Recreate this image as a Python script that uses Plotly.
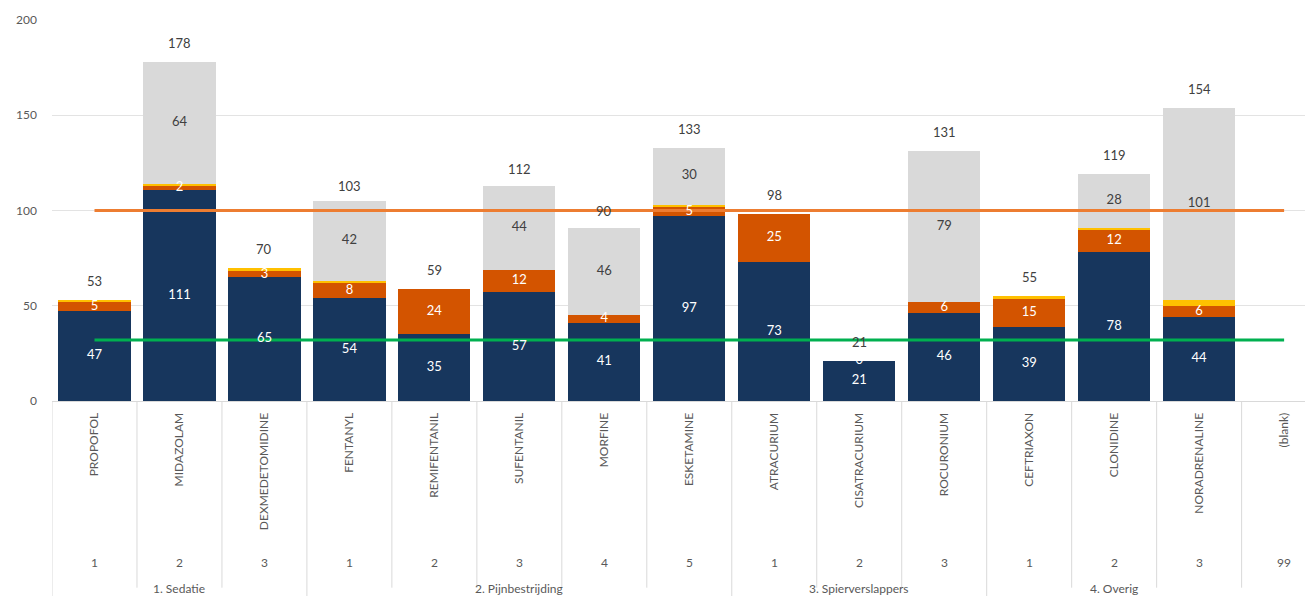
import plotly.graph_objects as go

drugs = ["PROPOFOL", "MIDAZOLAM", "DEXMEDETOMIDINE", "FENTANYL", "REMIFENTANIL",
         "SUFENTANIL", "MORFINE", "ESKETAMINE", "ATRACURIUM", "CISATRACURIUM",
         "ROCURONIUM", "CEFTRIAXON", "CLONIDINE", "NORADRENALINE", "(blank)"]
sub_numbers = ["1", "2", "3", "1", "2", "3", "4", "5", "1", "2", "3", "1", "2", "3", "99"]
groups = ["1. Sedatie", "2. Pijnbestrijding", "3. Spierverslappers", "4. Overig"]
group_spans = [(0, 2), (3, 7), (8, 10), (11, 13)]

navy = [47, 111, 65, 54, 35, 57, 41, 97, 73, 21, 46, 39, 78, 44, None]
orange = [5, 2, 3, 8, 24, 12, 4, 5, 25, 0, 6, 15, 12, 6, None]
yellow = [1, 1, 2, 1, 0, 0, 0, 1, 0, 0, 0, 1, 1, 3, None]
gray = [None, 64, None, 42, None, 44, 46, 30, None, None, 79, None, 28, 101, None]
totals = [53, 178, 70, 103, 59, 112, 90, 133, 98, 21, 131, 55, 119, 154, None]

ref_high = 100
ref_low = 32

C_NAVY = "#17365D"
C_ORANGE = "#D35400"
C_YELLOW = "#FFC000"
C_GRAY = "#D9D9D9"
FONT = "Lato"

fig = go.Figure()

series = [("navy", navy, C_NAVY), ("orange", orange, C_ORANGE),
          ("yellow", yellow, C_YELLOW), ("gray", gray, C_GRAY)]
for name, vals, col in series:
    fig.add_trace(go.Bar(x=drugs, y=[v if v is not None else 0 for v in vals],
                         name=name, marker=dict(color=col, line=dict(width=0)),
                         hoverinfo="skip", showlegend=False))

# segment labels
def add_labels(vals, bases, color):
    xs, ys, ts = [], [], []
    for i, v in enumerate(vals):
        if v is None:
            continue
        xs.append(drugs[i]); ys.append(bases[i] + v / 2); ts.append(str(v))
    fig.add_trace(go.Scatter(x=xs, y=ys, text=ts, mode="text",
                             textfont=dict(family=FONT, size=13, color=color),
                             hoverinfo="skip", showlegend=False))

zero = [0] * len(drugs)
b_orange = [(n or 0) for n in navy]
b_yellow = [b_orange[i] + (orange[i] or 0) for i in range(len(drugs))]
b_gray = [b_yellow[i] + (yellow[i] or 0) for i in range(len(drugs))]

# reference lines
fig.add_trace(go.Scatter(x=[drugs[0], drugs[-1]], y=[ref_high, ref_high], mode="lines",
                         line=dict(color="#ED7D31", width=3), hoverinfo="skip", showlegend=False))
fig.add_trace(go.Scatter(x=[drugs[0], drugs[-1]], y=[ref_low, ref_low], mode="lines",
                         line=dict(color="#00B050", width=3), hoverinfo="skip", showlegend=False))

add_labels(navy, zero, "white")
add_labels(orange, b_orange, "white")
add_labels(gray, b_gray, "#404040")

# totals above bars
for i, t in enumerate(totals):
    if t is None:
        continue
    fig.add_annotation(x=drugs[i], y=t, text=str(t), showarrow=False, yshift=19,
                       font=dict(family=FONT, size=13, color="#404040"))

# sub-number row and group row
for i, s in enumerate(sub_numbers):
    fig.add_annotation(x=drugs[i], y=-0.448, yref="paper", text=s, showarrow=False,
                       font=dict(family=FONT, size=12, color="#595959"))
for g, (a, b) in zip(groups, group_spans):
    fig.add_annotation(x=(a + b) / 2, y=-0.517, yref="paper", text=g, showarrow=False,
                       font=dict(family=FONT, size=12, color="#595959"))

# separators
line_col = "#D9D9D9"
group_bounds = set([a - 0.5 for a, b in group_spans])
for k in range(len(drugs)):
    xb = k - 0.5
    y1 = -0.547 if xb in group_bounds else -0.49
    fig.add_shape(type="line", xref="x", yref="paper", x0=xb, x1=xb, y0=0, y1=y1,
                  line=dict(color=line_col, width=1))

fig.update_layout(
    width=1305, height=588,
    margin=dict(l=44, r=0, t=12, b=195, autoexpand=False),
    plot_bgcolor="white", paper_bgcolor="white",
    barmode="stack", bargap=0.15,
    font=dict(family=FONT, color="#595959"),
)
fig.update_xaxes(type="category", range=[-0.5, 14.34], tickangle=-90,
                 tickfont=dict(family=FONT, size=12, color="#595959"),
                 showgrid=False, showline=True, linecolor="#D9D9D9", linewidth=1,
                 ticks="", ticklabelstandoff=6, automargin=False)
fig.update_yaxes(range=[0, 200], tickvals=[0, 50, 100, 150, 200],
                 showgrid=True, gridcolor="#E3E3E3", gridwidth=1, zeroline=False,
                 tickfont=dict(family=FONT, size=12, color="#595959"),
                 ticklabelstandoff=14, showline=False, automargin=False)

fig.write_html("out.html")
